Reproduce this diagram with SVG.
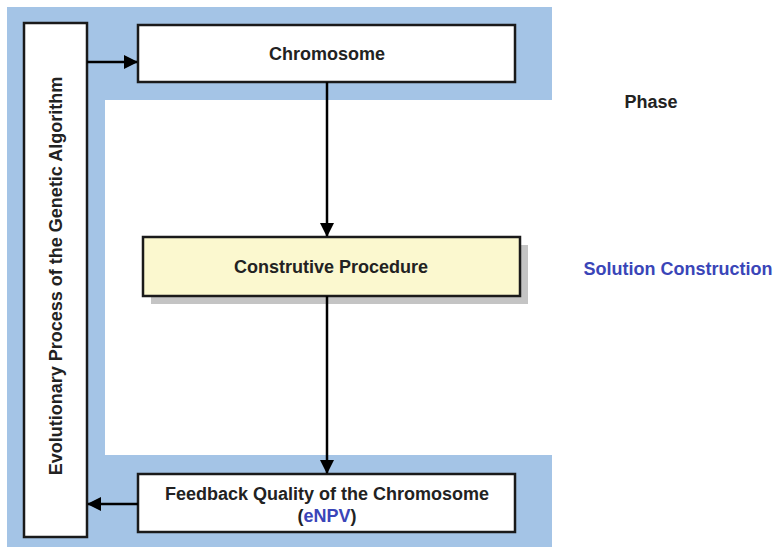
<svg xmlns="http://www.w3.org/2000/svg" width="775" height="548" viewBox="0 0 775 548">
<style>
.box{fill:#fff;stroke:#1a1a1a;stroke-width:2.5}
.t{font-family:"Liberation Sans",Arial,sans-serif;font-weight:bold;font-size:18px;fill:#222;text-anchor:middle}
.c{stroke:#000;stroke-width:2.5;fill:none}
</style>
<defs>
<marker id="ah" markerWidth="14" markerHeight="14" refX="13" refY="7" orient="auto" markerUnits="userSpaceOnUse" viewBox="0 0 14 14">
<path d="M0,0 L14,7 L0,14 z" fill="#000"/>
</marker>
</defs>
<rect width="775" height="548" fill="#fff"/>
<path d="M7,7 H552 V100 H105 V455 H552 V547 H7 Z" fill="#a4c4e6"/>
<g id="evolutionary">
<rect class="box" x="24" y="23" width="63" height="514"/>
<text class="t" transform="translate(62,276) rotate(-90)">Evolutionary Process of the Genetic Algorithm</text>
</g>
<g id="chromosome">
<rect class="box" x="138" y="25" width="377" height="57"/>
<text class="t" x="327" y="60">Chromosome</text>
</g>
<g id="constructive">
<rect x="151" y="245" width="377" height="59" fill="#c4c4c4"/>
<rect class="box" x="143" y="237" width="377" height="59" style="fill:#fbf8cf"/>
<text class="t" x="331" y="273">Construtive Procedure</text>
</g>
<g id="feedback">
<rect class="box" x="138" y="474" width="377" height="58"/>
<text class="t" x="327" y="500">Feedback Quality of the Chromosome</text>
<text class="t" x="327" y="522">(<tspan fill="#3a45b8">eNPV</tspan>)</text>
</g>
<g id="labels">
<text class="t" x="651" y="108">Phase</text>
<text class="t" x="678" y="275" style="fill:#3a45b8">Solution Construction</text>
</g>
<g id="connectors">
<line class="c" x1="87" y1="62" x2="137" y2="62" marker-end="url(#ah)"/>
<line class="c" x1="327" y1="82" x2="327" y2="236" marker-end="url(#ah)"/>
<line class="c" x1="327" y1="296" x2="327" y2="473" marker-end="url(#ah)"/>
<line class="c" x1="138" y1="504" x2="88" y2="504" marker-end="url(#ah)"/>
</g>
</svg>
